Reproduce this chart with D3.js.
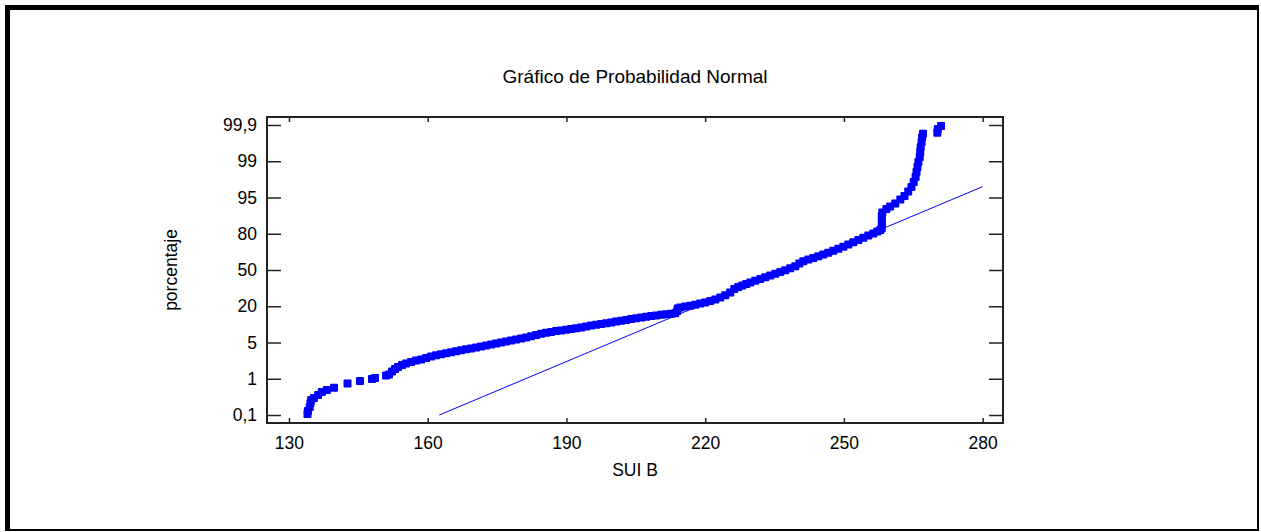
<!DOCTYPE html>
<html>
<head>
<meta charset="utf-8">
<script src="https://cdn.jsdelivr.net/npm/d3@7"></script>
<style>
  body { margin: 0; background: #fff; }
  svg { display: block; font-family: "Liberation Sans", Arial, sans-serif; }
</style>
</head>
<body>
<script>
//////////////// data ////////////////
// SUI B values and their cumulative percentage
var suiB = [
  134.0, 134.1, 134.5, 134.65, 134.8, 135.4, 136.3, 137.1, 138.2,
  139.74, 142.66, 145.36, 147.96, 148.6, 150.99, 151.64,
  152.29, 152.94, 153.58, 154.45, 155.32, 156.40, 157.48, 158.56, 159.64,
  160.72, 161.81, 162.89, 163.97, 165.05, 166.13, 167.22, 168.30, 169.38,
  170.46, 171.54, 172.62, 173.71, 174.79, 175.87, 176.95, 178.03, 179.12,
  180.20, 181.28, 182.36, 183.44, 184.53, 185.61, 186.69, 187.77, 188.85,
  189.93, 191.02, 192.10, 193.18, 194.26, 195.34, 196.43, 197.51, 198.59,
  199.67, 200.75, 201.84, 202.92, 204.00, 205.08, 206.16, 207.25, 208.33,
  209.41, 210.49, 211.57, 212.65, 213.52, 213.95, 214.06, 214.60, 215.68,
  216.77, 217.85, 218.93, 220.01, 221.09, 222.18, 223.26, 224.34, 225.42,
  226.29, 227.15, 228.02, 228.88, 229.75, 230.83, 231.91, 232.99, 234.08,
  235.16, 236.24, 237.32, 238.40, 239.49, 240.35, 241.22, 242.30, 243.38,
  244.46, 245.54, 246.63, 247.71, 248.79, 249.87, 250.95, 252.04, 253.12,
  254.20, 255.28, 256.36, 257.23, 257.88,
  258.2, 258.2, 258.2, 258.2, 258.3, 259.2, 260.0, 261.1, 262.2, 263.1,
  263.9, 264.6, 265.1, 265.5, 265.7, 265.9, 266.1,
  266.4, 266.5, 266.6, 266.8, 266.9, 267.1, 270.2, 270.3, 271.0
];
var pct = [
  0.125, 0.199, 0.299, 0.398, 0.472, 0.522, 0.597, 0.671, 0.721,
  0.778, 0.882, 0.944, 0.994, 1.08, 1.36, 1.47,
  1.80, 2.08, 2.30, 2.52, 2.68, 2.85, 3.01, 3.12, 3.29,
  3.46, 3.59, 3.71, 3.82, 3.93, 4.04, 4.15, 4.25, 4.35,
  4.46, 4.56, 4.67, 4.77, 4.88, 4.99, 5.41, 5.83, 6.20,
  6.66, 7.11, 7.61, 8.10, 8.60, 9.06, 9.39, 9.72, 10.01,
  10.30, 10.59, 10.92, 11.25, 11.62, 11.99, 12.32, 12.65, 12.99,
  13.32, 13.69, 14.02, 14.35, 14.68, 15.01, 15.30, 15.63, 15.92,
  16.21, 16.46, 16.71, 16.91, 17.12, 18.03, 19.07, 19.48, 19.86,
  20.46, 21.20, 22.19, 23.19, 24.34, 25.67, 27.24, 29.06, 31.38,
  34.28, 35.93, 37.26, 38.41, 39.66, 41.06, 42.64, 44.04, 45.45,
  46.86, 48.34, 49.83, 51.41, 53.06, 55.38, 57.28, 58.61, 59.93,
  61.34, 62.74, 64.23, 65.89, 67.54, 69.28, 71.10, 72.92, 74.83,
  76.65, 78.47, 80.14, 80.89, 81.55,
  82.38, 84.03, 85.69, 87.34, 88.79, 90.24, 91.28, 92.52, 94.17, 95.17,
  95.66, 96.16, 96.71, 97.26, 97.81, 98.37, 98.92,
  99.106, 99.23, 99.35, 99.48, 99.59, 99.68, 99.71, 99.80, 99.875
];

// fitted normal line (two ends)
var fitX = [162.5, 280];
var fitPct = [0.1, 96.2];

// tick labels
var xTicks = [130, 160, 190, 220, 250, 280];
var xMinor = d3.range(130, 290, 10);
var pctTicks = [0.1, 1, 5, 20, 50, 80, 95, 99, 99.9];

var titleText = "Gráfico de Probabilidad Normal";
var xLabel = "SUI B";
var yLabel = "porcentaje";

//////////////// layout ////////////////
var svgWidth = 1261, svgHeight = 532;
var plot = { left: 267, top: 117, right: 1003, bottom: 423 };

var svg = d3.select('body').append('svg')
  .attr('width', svgWidth)
  .attr('height', svgHeight);

// outer frame, heavier on the top and left
svg.append('rect')
  .attr('x', 6).attr('y', 6)
  .attr('width', 1252).attr('height', 524)
  .attr('fill', 'none').attr('stroke', '#000').attr('stroke-width', 2);
svg.append('path')
  .attr('d', 'M7.5,531V7.5H1259')
  .attr('fill', 'none').attr('stroke', '#000').attr('stroke-width', 5);

// scales
var xScale = d3.scaleLinear()
  .domain([125.25, 284.4])
  .range([plot.left, plot.right]);

// probability ticks are evenly spaced on this axis
var yScale = d3.scaleLinear()
  .domain(pctTicks)
  .range(pctTicks.map(function(d, i) { return 415 - i * 36.25; }));

function fmt(d) { return String(d).replace('.', ','); }

// axes (ticks point inwards)
var gx = svg.append('g').attr('transform', 'translate(0,' + plot.bottom + ')');
gx.call(d3.axisBottom(xScale).tickValues(xMinor).tickSize(-2.5).tickFormat(''));
gx.call(d3.axisBottom(xScale).tickValues(xTicks).tickSize(-5).tickPadding(14).tickFormat(d3.format('d')));

var gxTop = svg.append('g').attr('transform', 'translate(0,' + plot.top + ')');
gxTop.call(d3.axisTop(xScale).tickValues(xMinor).tickSize(-2.5).tickFormat(''));
gxTop.call(d3.axisTop(xScale).tickValues(xTicks).tickSize(-5).tickFormat(''));

var gy = svg.append('g').attr('transform', 'translate(' + plot.left + ',0)');
gy.call(d3.axisLeft(yScale).tickValues(pctTicks).tickSize(-14).tickPadding(10).tickFormat(fmt));

var gyRight = svg.append('g').attr('transform', 'translate(' + plot.right + ',0)');
gyRight.call(d3.axisRight(yScale).tickValues(pctTicks).tickSize(-14).tickFormat(''));

svg.selectAll('.domain').remove();
svg.selectAll('.tick line').attr('stroke', '#222').attr('stroke-width', 1.5);
svg.selectAll('.tick text')
  .attr('fill', '#000')
  .style('font-size', '17.5px')
  .style('font-family', '"Liberation Sans", Arial, sans-serif');

// plot border
svg.append('rect')
  .attr('x', plot.left).attr('y', plot.top)
  .attr('width', plot.right - plot.left)
  .attr('height', plot.bottom - plot.top)
  .attr('fill', 'none').attr('stroke', '#222').attr('stroke-width', 2);

// fitted line
svg.append('line')
  .attr('x1', xScale(fitX[0])).attr('y1', yScale(fitPct[0]))
  .attr('x2', xScale(fitX[1])).attr('y2', yScale(fitPct[1]))
  .attr('stroke', '#0000ff').attr('stroke-width', 1);

// points
var size = 8;
svg.append('g').selectAll('rect')
  .data(suiB)
  .enter().append('rect')
  .attr('x', function(d) { return xScale(d) - size / 2; })
  .attr('y', function(d, i) { return yScale(pct[i]) - size / 2; })
  .attr('width', size).attr('height', size)
  .attr('rx', 1)
  .attr('fill', '#0000ff');

// titles
svg.append('text')
  .attr('x', (plot.left + plot.right) / 2).attr('y', 83)
  .attr('text-anchor', 'middle')
  .style('font-size', '19px')
  .text(titleText);

svg.append('text')
  .attr('x', (plot.left + plot.right) / 2).attr('y', 476)
  .attr('text-anchor', 'middle')
  .style('font-size', '17.5px')
  .text(xLabel);

svg.append('text')
  .attr('transform', 'translate(177,' + (plot.top + plot.bottom) / 2 + ') rotate(-90)')
  .attr('text-anchor', 'middle')
  .style('font-size', '17.5px')
  .text(yLabel);
</script>
</body>
</html>
